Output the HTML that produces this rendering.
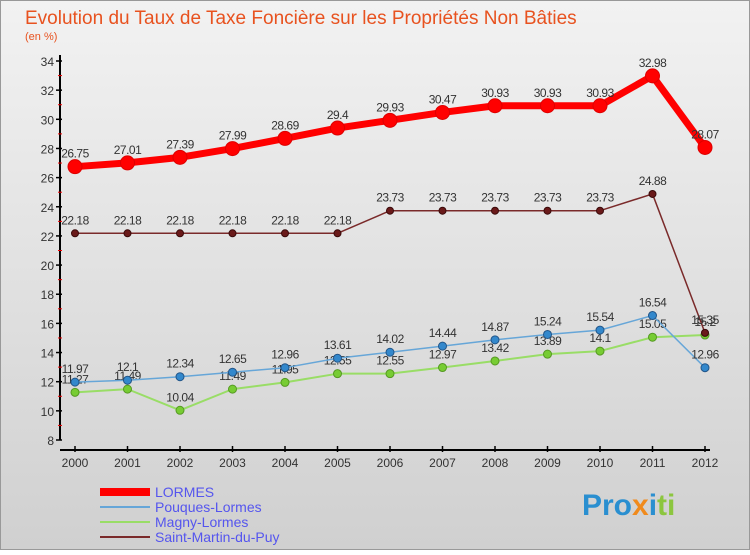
<!DOCTYPE html>
<html><head><meta charset="utf-8"><style>
body{margin:0;width:750px;height:550px;overflow:hidden;font-family:"Liberation Sans",sans-serif}
svg text{font-family:"Liberation Sans",sans-serif}
</style></head><body>
<svg id="c" width="750" height="550" xmlns="http://www.w3.org/2000/svg">
<defs><linearGradient id="bg" x1="0" y1="0" x2="0" y2="1"><stop offset="0" stop-color="#f2f2f2"/><stop offset="1" stop-color="#d0d0d0"/></linearGradient></defs>
<rect x="0.5" y="0.5" width="749" height="549" fill="url(#bg)" stroke="#999"/>
<text x="25" y="24" font-size="19" fill="#e8521f">Evolution du Taux de Taxe Foncière sur les Propriétés Non Bâties</text>
<text x="25" y="40" font-size="11" fill="#e8521f">(en %)</text>
<g id="axes"></g><g id="series"></g><g id="legend"></g>
<text x="582" y="515" font-size="30" font-weight="bold"><tspan fill="#2a8fd0">Pro</tspan><tspan fill="#f08a1c">x</tspan><tspan fill="#2a8fd0">i</tspan><tspan fill="#8cc63f">ti</tspan></text>
</svg>
<script>
const years=[2000,2001,2002,2003,2004,2005,2006,2007,2008,2009,2010,2011,2012];
const yTicks=[8,10,12,14,16,18,20,22,24,26,28,30,32,34];
const lormes=[26.75,27.01,27.39,27.99,28.69,29.4,29.93,30.47,30.93,30.93,30.93,32.98,28.07];
const pouques=[11.97,12.1,12.34,12.65,12.96,13.61,14.02,14.44,14.87,15.24,15.54,16.54,12.96];
const magny=[11.27,11.49,10.04,11.49,11.95,12.55,12.55,12.97,13.42,13.89,14.1,15.05,15.2];
const saint=[22.18,22.18,22.18,22.18,22.18,22.18,23.73,23.73,23.73,23.73,23.73,24.88,15.35];
const NS="http://www.w3.org/2000/svg";
const xs=i=>75+i*52.5, ys=v=>440-(v-8)*(379/26);
function mk(t,a,p){const e=document.createElementNS(NS,t);for(const k in a)e.setAttribute(k,a[k]);p.appendChild(e);return e;}
const ax=document.getElementById('axes');
let l=mk('line',{x1:60,y1:55,x2:60,y2:440,stroke:'#000','stroke-width':2},ax);


l=mk('line',{x1:60,y1:450,x2:710,y2:450,stroke:'#000','stroke-width':2},ax);


yTicks.forEach(v=>{
 mk('line',{x1:56,y1:ys(v),x2:62,y2:ys(v),stroke:'#000','stroke-width':1.5},ax);
 if(v<34)mk('line',{x1:58,y1:ys(v+1),x2:62,y2:ys(v+1),stroke:'#e00','stroke-width':1},ax);
 const t=mk('text',{x:54,y:ys(v)+5,'font-size':12,'text-anchor':'end',fill:'#333'},ax);t.textContent=v;
 
 
});
years.forEach((y,i)=>{
 mk('line',{x1:xs(i),y1:446,x2:xs(i),y2:452,stroke:'#000','stroke-width':1.5},ax);
 const t=mk('text',{x:xs(i),y:467,'font-size':12,'text-anchor':'middle',fill:'#333'},ax);t.textContent=y;
 
 
});
const sg=document.getElementById('series');
function series(name,vals,color,w,r,dot,lo){
 const g=mk('g',{},sg);
 
 
 mk('polyline',{points:vals.map((v,i)=>xs(i)+','+ys(v)).join(' '),fill:'none',stroke:color,'stroke-width':w,'stroke-linejoin':'round'},g);
 vals.forEach((v,i)=>{
  const c=mk('circle',{cx:xs(i),cy:ys(v),r:r,fill:dot,stroke:lo,'stroke-width':1},g);
  
  
  const t=mk('text',{x:xs(i),y:ys(v)-9,'font-size':12,'text-anchor':'middle',fill:'#333','letter-spacing':'-0.5'},g);t.textContent=v;
  
  
 });
}
series('magny',magny,'#99dd66',2,4,'#77cc33','#559922');
series('pouques',pouques,'#66a6d8',1.5,4,'#3388cc','#225588');
series('saint',saint,'#7a2a2a',1.5,3.5,'#6a1a1a','#3a0a0a');
series('lormes',lormes,'#ff0000',7,7,'#ff0000','#dd0000');
const lg=document.getElementById('legend');
const items=[['LORMES','#ff0000',8],['Pouques-Lormes','#66a6d8',2],['Magny-Lormes','#99dd66',2],['Saint-Martin-du-Puy','#7a2a2a',2]];
items.forEach((it,i)=>{
 const y=492+i*15;
 mk('line',{x1:100,y1:y,x2:150,y2:y,stroke:it[1],'stroke-width':it[2]},lg);
 const t=mk('text',{x:155,y:y+5,'font-size':14,fill:'#5555ee'},lg);t.textContent=it[0];
 
 
});
</script>
</body></html>
